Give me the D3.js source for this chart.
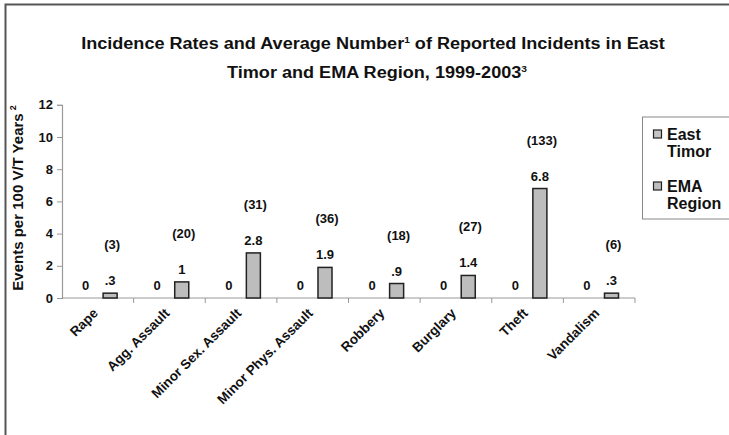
<!DOCTYPE html>
<html>
<head>
<meta charset="utf-8">
<script src="https://cdn.jsdelivr.net/npm/d3@7"></script>
<style>
  html, body { margin: 0; padding: 0; background: #fff; }
  svg { display: block; font-family: "Liberation Sans", Arial, sans-serif; font-weight: bold; }
</style>
</head>
<body>
<svg id="chart" width="729" height="435"></svg>
<script>
// Crime categories along the x axis
const categories = ["Rape", "Agg. Assault", "Minor Sex. Assault", "Minor Phys. Assault",
                    "Robbery", "Burglary", "Theft", "Vandalism"];
// Incidence rate per 100 volunteer/trainee years
const eastTimor = [0, 0, 0, 0, 0, 0, 0, 0];
const emaRegion = [0.3, 1, 2.8, 1.9, 0.9, 1.4, 6.8, 0.3];
// Average number of reported incidents in the region
const incidentCounts = [3, 20, 31, 36, 18, 27, 133, 6];
const seriesNames = ["East Timor", "EMA Region"];
const yTicks = [0, 2, 4, 6, 8, 10, 12];

const fmt = v => v === 0 ? "0" : (v < 1 ? String(v).replace(/^0/, "") : String(v));

const svg = d3.select("#chart");
const plot = { left: 62, right: 635, top: 104.8, bottom: 298 };

// Figure frame (top and left edges)
svg.append("path")
  .attr("d", "M5.5,435 V4.5 H729")
  .attr("fill", "none").attr("stroke", "#555").attr("stroke-width", 2);

// Title (slightly widened lettering)
const titleLine = (cx, yPos) => svg.append("text")
  .attr("transform", `translate(${cx},${yPos}) scale(1.13,1)`)
  .attr("text-anchor", "middle").attr("font-size", 16).attr("fill", "#111");
const t1 = titleLine(373, 49);
t1.append("tspan").text("Incidence Rates and Average Number");
t1.append("tspan").attr("font-size", 9).attr("dy", -6).text("1");
t1.append("tspan").attr("dy", 6).text(" of Reported Incidents in East");
const t2 = titleLine(377, 78);
t2.append("tspan").text("Timor and EMA Region, 1999-2003");
t2.append("tspan").attr("font-size", 9).attr("dy", -6).text("3");

// Scales
const x = d3.scaleBand().domain(categories).range([plot.left, plot.right]).paddingInner(0).paddingOuter(0);
const xs = d3.scaleBand().domain(seriesNames).range([0, x.bandwidth()]).paddingInner(0.43).paddingOuter(0.67);
const y = d3.scaleLinear().domain([0, 12]).range([plot.bottom, plot.top]);

// Y axis
const yAxis = svg.append("g").attr("transform", `translate(${plot.left},0)`)
  .call(d3.axisLeft(y).tickValues(yTicks).tickSize(5).tickPadding(4));
yAxis.select(".domain").attr("stroke", "#999").attr("stroke-width", 1.2);
yAxis.selectAll(".tick line").attr("stroke", "#999");
yAxis.selectAll(".tick text").attr("font-size", 13).attr("font-weight", "bold")
  .attr("font-family", "Liberation Sans, Arial, sans-serif").attr("fill", "#111");

// X axis with ticks at category boundaries
const xAxisG = svg.append("g").attr("transform", `translate(0,${plot.bottom})`);
xAxisG.append("line").attr("x1", plot.left).attr("x2", plot.right)
  .attr("stroke", "#999").attr("stroke-width", 1.2);
xAxisG.selectAll("line.tk").data(categories).join("line").attr("class", "tk")
  .attr("x1", d => x(d) + x.bandwidth()).attr("x2", d => x(d) + x.bandwidth())
  .attr("y1", 0).attr("y2", 5).attr("stroke", "#999");
xAxisG.selectAll("text").data(categories).join("text")
  .attr("transform", d => `translate(${x(d) + x.bandwidth() / 2 + 1},${16}) rotate(-45)`)
  .attr("text-anchor", "end").attr("font-size", 13.5).attr("fill", "#111")
  .text(d => d);

// Y axis title
const yt = svg.append("text")
  .attr("transform", `translate(23,${198}) rotate(-90)`)
  .attr("text-anchor", "middle").attr("font-size", 15).attr("fill", "#111");
yt.append("tspan").text("Events per 100 V/T Years");
yt.append("tspan").attr("font-size", 9).attr("dy", -7).attr("dx", 3).text("2");

// Bars
const rows = categories.map((c, i) => ({ c, et: eastTimor[i], ema: emaRegion[i], n: incidentCounts[i] }));
const fills = { "East Timor": "#c4c4c4", "EMA Region": "#bdbdbd" };

const groups = svg.append("g").selectAll("g").data(rows).join("g")
  .attr("transform", d => `translate(${x(d.c)},0)`);

groups.append("rect")
  .attr("x", xs("East Timor")).attr("width", xs.bandwidth())
  .attr("y", d => y(d.et)).attr("height", d => y(0) - y(d.et))
  .attr("fill", fills["East Timor"]).attr("stroke", "#222").attr("stroke-width", 1.5);
groups.append("rect")
  .attr("x", xs("EMA Region")).attr("width", xs.bandwidth())
  .attr("y", d => y(d.ema)).attr("height", d => y(0) - y(d.ema))
  .attr("fill", fills["EMA Region"]).attr("stroke", "#222").attr("stroke-width", 1.5);

// Value labels
groups.append("text")
  .attr("x", xs("East Timor") + xs.bandwidth() / 2).attr("y", d => y(d.et) - 8)
  .attr("text-anchor", "middle").attr("font-size", 13).attr("fill", "#111")
  .text(d => fmt(d.et));
groups.append("text")
  .attr("x", xs("EMA Region") + xs.bandwidth() / 2).attr("y", d => y(d.ema) - 8)
  .attr("text-anchor", "middle").attr("font-size", 13).attr("fill", "#111")
  .text(d => fmt(d.ema));
// Incident counts
groups.append("text")
  .attr("x", xs("EMA Region") + xs.bandwidth() / 2 + 2).attr("y", d => y(d.ema) - 44)
  .attr("text-anchor", "middle").attr("font-size", 13).attr("fill", "#111")
  .text(d => `(${d.n})`);

// Legend
const lg = svg.append("g");
lg.append("rect").attr("x", 642.5).attr("y", 117).attr("width", 120).attr("height", 102)
  .attr("fill", "#fff").attr("stroke", "#888").attr("stroke-width", 1);
const legendItems = [
  { name: "East Timor", lines: ["East", "Timor"], y: 140 },
  { name: "EMA Region", lines: ["EMA", "Region"], y: 192 }
];
legendItems.forEach(it => {
  lg.append("rect").attr("x", 653.5).attr("y", it.y - 10).attr("width", 8).attr("height", 8)
    .attr("fill", fills[it.name]).attr("stroke", "#222").attr("stroke-width", 1.2);
  const t = lg.append("text").attr("font-size", 16).attr("fill", "#111");
  it.lines.forEach((l, k) => t.append("tspan").attr("x", 667).attr("y", it.y + k * 17).text(l));
});
</script>
</body>
</html>
